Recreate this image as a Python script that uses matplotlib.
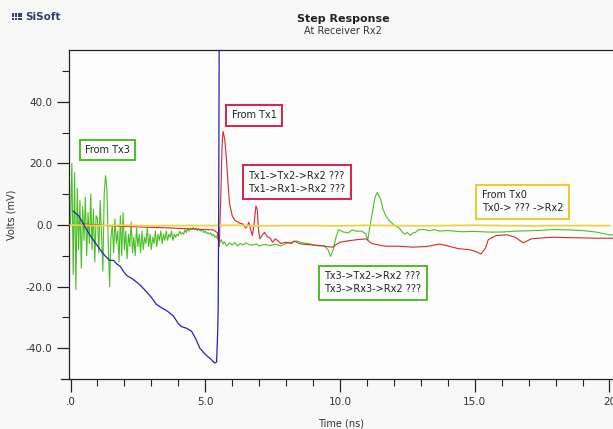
import numpy as np
import matplotlib
matplotlib.use("Agg")
import matplotlib.pyplot as plt
from matplotlib.patches import Rectangle
from matplotlib.ticker import MultipleLocator, FixedLocator

# ---- waveform data (time in ns, amplitude in mV) ----

# Tx3 near-end ringing, sampled every 0.05 ns from 0 to 5.45 ns
tx3_early = [
    0, 20, -16, 17, -21, 12, -8, 8, -14, 6,
    -5, 9, -10, 4, -6, 10, -8, 5, -12, 3,
    2, -9, 8, -3, -15, 10, 16, 12, -6, -20,
    -4, 0, -9, 2, -6, -2, -12, 3, -10, 4,
    -8, -2, -11, -3, -7, 1, -9, -4, -10, -1,
    -7, -3, -9, -2, -8, -4, -6, -1, -7, -3,
    -8, -4, -6, -2, -7, -3, -5, -2, -6, -3,
    -5, -2, -5, -3, -4, -2, -5, -3, -4, -3,
    -3.5, -2, -3, -2.5, -3, -1.5, -2.5, -1, -2, -1,
    -1.5, -0.8, -1.5, -1, -1.8, -1.2, -1.8, -2, -1.6, -2.5,
    -2, -2.8, -2.5, -3, -2.5, -3.5, -3, -4, -3.5, -4.5,
]
tx3_late_t = [5.5, 5.55, 5.6, 5.65, 5.7, 5.8, 5.9, 6.0, 6.1, 6.2, 6.3, 6.4,
              6.5, 6.7, 6.9, 7.0, 7.2, 7.4, 7.6, 7.8, 8.0, 8.2, 8.4, 8.6,
              8.8, 9.0, 9.2, 9.4, 9.55, 9.65, 9.75, 9.85, 9.95, 10.1, 10.3,
              10.45, 10.6, 10.8, 10.95, 11.03, 11.1, 11.2, 11.3, 11.38, 11.5,
              11.6, 11.7, 11.83, 12.0, 12.1, 12.2, 12.3, 12.4, 12.5, 12.6,
              12.7, 12.8, 12.9, 13.1, 13.3, 13.5, 13.7, 14.0, 14.5, 15.0,
              15.5, 16.0, 16.5, 17.0, 17.5, 18.0, 18.5, 19.0, 19.5, 20.0, 20.3]
tx3_late_v = [-4.5, -5.5, -4.8, -6.2, -5.5, -6.8, -5.8, -6.5, -5.7, -6.8, -6.0, -6.5,
              -5.8, -6.6, -6.2, -6.8, -6.3, -6.7, -6.2, -6.8, -6.0, -5.6, -5.2, -5.8,
              -6.0, -6.4, -6.8, -6.7, -8.0, -10.2, -8.0, -4.0, -1.5, -2.2, -2.6,
              -1.6, -2.0, -2.0, -2.8, -5.0, -1.0, 4.0, 9.0, 10.5, 8.5,
              5.0, 3.0, 1.4, 0.0, -0.5, -1.0, -2.2, -3.0, -2.4, -3.4,
              -2.6, -2.4, -1.6, -1.4, -1.9, -1.5, -2.0, -1.8, -2.2, -2.1,
              -2.3, -2.3, -2.0, -1.9, -1.7, -1.5, -1.6, -1.8, -2.3, -3.2, -3.4]

# Tx1
tx1_t = [0.0, 0.5, 1.0, 1.5, 2.0, 2.5, 3.0, 3.5, 4.0, 4.5, 5.0, 5.3, 5.45,
         5.52, 5.58, 5.62, 5.66, 5.72, 5.78, 5.84, 5.9, 6.0, 6.1, 6.2, 6.3,
         6.4, 6.5, 6.55, 6.62, 6.7, 6.75, 6.82, 6.88, 6.93, 6.98, 7.03, 7.1,
         7.2, 7.3, 7.4, 7.5, 7.6, 7.7, 7.8, 8.0, 8.2, 8.3, 8.5, 8.7, 9.0,
         9.3, 9.5, 9.73, 9.85, 10.0, 10.2, 10.35, 10.6, 10.97, 11.1, 11.2,
         11.5, 11.7, 12.2, 12.7, 13.2, 13.7, 14.0, 14.4, 14.8, 15.0, 15.23,
         15.4, 15.5, 15.8, 16.2, 16.5, 16.8, 17.1, 17.5, 17.9, 18.5, 19.0,
         19.5, 20.0, 20.3]
tx1_v = [0.0, 0.3, 0.0, -0.3, -0.5, -0.6, -0.8, -0.9, -1.1, -1.3, -1.5, -1.6, -2.5,
         -7.0, 10.0, 25.0, 30.4, 28.0, 22.0, 14.0, 7.0, 3.0, 1.5, 1.0, 0.5,
         0.3, -1.0, -0.5, 0.9, -2.0, -3.4, 1.0, 6.2, 5.0, -2.0, -4.5, -3.5,
         -2.4, -3.8, -4.2, -5.6, -4.5, -5.2, -6.0, -5.6, -6.0, -5.2, -6.1, -6.3, -6.5,
         -6.7, -7.0, -7.2, -6.4, -5.6, -5.3, -5.1, -4.8, -4.5, -5.5, -6.1,
         -6.6, -6.9, -6.9, -7.2, -7.0, -6.2, -6.8, -7.7, -8.0, -8.5, -9.4,
         -7.5, -4.8, -3.4, -3.2, -4.0, -5.8, -4.5, -4.2, -4.0, -4.1, -4.2,
         -4.3, -4.3, -4.3]

# Tx2 (victim's own driver) -- ramps down then steps up off scale
tx2_t = [0.1, 0.3, 0.5, 0.7, 0.9, 1.1, 1.28, 1.45, 1.6, 1.71, 1.85, 2.0, 2.1,
         2.3, 2.57, 2.8, 3.0, 3.19, 3.4, 3.6, 3.81, 4.0, 4.12, 4.3, 4.49,
         4.65, 4.8, 5.0, 5.2, 5.35, 5.42, 5.46, 5.48, 5.5, 5.52, 20.3]
tx2_v = [4.5, 3.0, 0.0, -3.0, -5.5, -8.0, -10.0, -11.5, -11.5, -12.6, -13.5, -15.5, -16.5,
         -17.5, -19.4, -21.5, -23.5, -25.8, -27.0, -28.0, -29.5, -32.0, -33.0, -33.5, -34.5,
         -37.0, -40.0, -42.0, -43.5, -44.8, -44.5, -35.0, -27.0, 10.0, 70.0, 70.0]

# Tx0
tx0_t = list(range(0, 21))
tx0_v = [0.0, -0.2, -0.1, -0.3, -0.2, -0.2, -0.1, -0.3, -0.2, -0.2, -0.3,
         -0.1, -0.2, -0.3, -0.2, -0.1, -0.2, -0.3, -0.2, -0.2, -0.2]

y_ticks = [-40, -20, 0, 20, 40]
y_labels = ["-40.0", "-20.0", "0.0", "20.0", "40.0"]
x_ticks = [0, 5, 10, 15, 20]
x_labels = [".0", "5.0", "10.0", "15.0", "20"]

GREEN = "#48c024"
RED = "#d62b2b"
BLUE = "#2424b4"
YELLOW = "#f2d23c"
BOX_RED = "#dc1f4c"
BOX_YEL = "#f0c828"

W, H = 613, 429
fig = plt.figure(figsize=(W / 100, H / 100), dpi=100, facecolor="#f8f8f8")
ax = fig.add_axes([69.3 / W, 1 - 379 / H, (W - 69.3) / W, (379 - 50.3) / H])
ax.set_facecolor("#fdfdfd")

t_early = np.linspace(0, 5.45, len(tx3_early))
green_t = np.concatenate([t_early, tx3_late_t])
green_v = np.concatenate([tx3_early, tx3_late_v])

ax.plot(green_t, green_v, color=GREEN, lw=0.8, zorder=2)
ax.plot(tx1_t, tx1_v, color=RED, lw=0.8, zorder=3)
ax.plot(tx0_t, tx0_v, color=YELLOW, lw=1.3, zorder=4)
ax.plot(tx2_t, tx2_v, color=BLUE, lw=0.9, zorder=5)

ax.set_xlim(-0.045, 20.13)
ax.set_ylim(-50, 56.7)

ax.spines["right"].set_visible(False)
for s in ("left", "bottom", "top"):
    ax.spines[s].set_color("#222222")
    ax.spines[s].set_linewidth(0.9)

ax.yaxis.set_major_locator(FixedLocator(y_ticks))
ax.set_yticklabels(y_labels)
ax.yaxis.set_minor_locator(FixedLocator([-30, -10, 10, 30, 50]))
ax.xaxis.set_major_locator(FixedLocator(x_ticks))
ax.set_xticklabels(x_labels)
ax.xaxis.set_minor_locator(MultipleLocator(1))

ax.tick_params(which="major", length=9, width=0.9, color="#222222",
               labelsize=7.5, labelcolor="#333333")
ax.tick_params(which="minor", length=5, width=0.8, color="#222222")
ax.tick_params(axis="x", which="major", pad=4)
ax.tick_params(axis="y", which="major", pad=3)

# x axis line pokes out a little to the left of the y axis
ax.plot([-0.016, 0], [0, 0], transform=ax.transAxes, color="#222222",
        lw=0.9, clip_on=False)

ax.set_xlabel("Time (ns)", fontsize=7, color="#333333", labelpad=8)
ax.set_ylabel("Volts (mV)", fontsize=7, color="#333333", labelpad=7)

fig.text(343 / W, 1 - 19 / H, "Step Response", ha="center", va="center",
         fontsize=8, fontweight="bold", color="#222222")
fig.text(343 / W, 1 - 31 / H, "At Receiver Rx2", ha="center", va="center",
         fontsize=7, color="#333333")

# company logo: little block of bars plus the name
for col in range(4):
    for row in range(3):
        fig.patches.append(Rectangle(((12 + col * 2.8) / W, 1 - (12.5 + row * 2.6 + 2) / H),
                                     1.9 / W, 2.0 / H, transform=fig.transFigure,
                                     color="#34426a", lw=0))
fig.text(25 / W, 1 - 16.5 / H, "SiSoft", ha="left", va="center",
         fontsize=7.5, fontweight="bold", color="#34426a")

# annotation boxes
def label(x, y, txt, ec):
    ax.text(x, y, txt, ha="center", va="center", multialignment="left",
            fontsize=7, color="#222222", linespacing=1.35, zorder=6,
            bbox=dict(boxstyle="square,pad=0.55", fc="#fdfdfd", ec=ec, lw=1.4))

label(1.37, 24.3, "From Tx3", GREEN)
label(6.81, 35.6, "From Tx1", BOX_RED)
label(8.40, 13.9, "Tx1->Tx2->Rx2 ???\nTx1->Rx1->Rx2 ???", BOX_RED)
label(16.77, 7.5, "From Tx0\nTx0-> ??? ->Rx2", BOX_YEL)
label(11.22, -18.8, "Tx3->Tx2->Rx2 ???\nTx3->Rx3->Rx2 ???", GREEN)

fig.savefig("out.png", dpi=100, facecolor=fig.get_facecolor())
